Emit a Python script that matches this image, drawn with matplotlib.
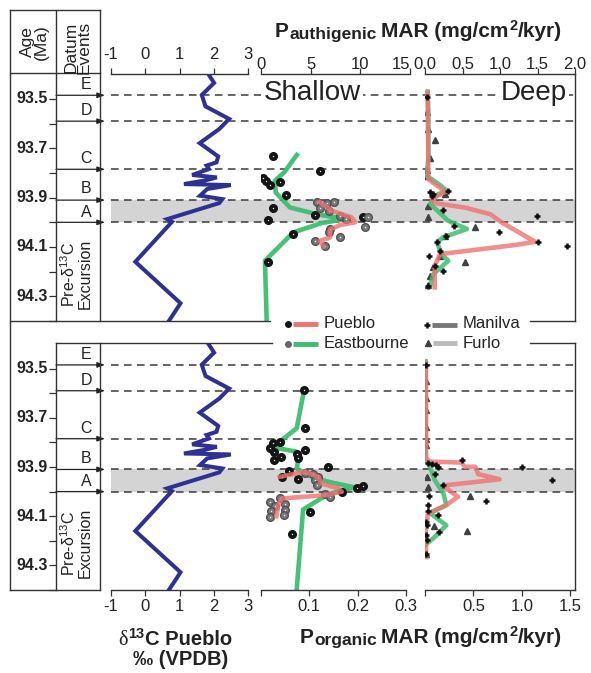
import matplotlib
matplotlib.use('Agg')
import matplotlib.pyplot as plt
import numpy as np

plt.rcParams['font.family'] = ['Liberation Sans', 'DejaVu Sans']
plt.rcParams['mathtext.fontset'] = 'custom'
plt.rcParams['mathtext.rm'] = 'Liberation Sans'
plt.rcParams['mathtext.bf'] = 'Liberation Sans:bold'
plt.rcParams['mathtext.it'] = 'Liberation Sans:italic'
plt.rcParams['mathtext.sf'] = 'Liberation Sans'

# ---------------- DATA ----------------
age_ticks = [93.5, 93.7, 93.9, 94.1, 94.3]
age_minor = [93.5, 93.6, 93.7, 93.8, 93.9, 94.0, 94.1, 94.2, 94.3, 94.4]
datum_ages = [93.485, 93.59, 93.785, 93.91, 94.0]
datum_labels = ['E', 'D', 'C', 'B', 'A']
datum_label_ages = [93.443, 93.547, 93.743, 93.864, 93.96]
shade_band = (93.91, 94.0)

# d13C Pueblo
d13c_age = [93.392, 93.435, 93.484, 93.53, 93.581, 93.622, 93.679, 93.733, 93.757,
            93.77, 93.784, 93.808, 93.818, 93.83, 93.845, 93.849, 93.865, 93.892,
            93.906, 93.922, 93.987, 93.998, 94.16, 94.328, 94.40]
d13c_val = [1.81, 2.01, 1.65, 1.76, 2.45, 2.16, 1.59, 2.13, 2.08,
            1.79, 1.86, 1.37, 2.09, 1.75, 1.13, 2.5, 1.81, 1.60,
            2.25, 2.16, 0.64, 0.78, -0.29, 1.03, 0.69]

# P authigenic - shallow
sh_auth_green_age = [93.727, 93.797, 93.831, 93.879, 93.94, 93.967, 93.987, 94.003, 94.041, 94.156, 94.40]
sh_auth_green_val = [3.6, 2.35, 1.41, 1.48, 2.92, 5.6, 8.46, 6.1, 3.25, 0.4, 0.57]
sh_auth_red_age = [93.919, 93.953, 93.98, 94.0, 94.011, 94.03, 94.061, 94.075, 94.098]
sh_auth_red_val = [5.94, 7.12, 9.13, 9.47, 7.96, 6.95, 6.95, 5.94, 6.28]
sh_auth_black_age = [93.733, 93.79, 93.82, 93.831, 93.838, 93.85, 93.89, 93.943, 93.97,
                     93.987, 93.98, 93.99, 94.048, 94.16]
sh_auth_black_val = [1.18, 5.94, 0.2, 0.5, 1.9, 0.9, 2.5, 1.18, 5.44, 8.6, 10.3, 0.74, 3.25, 0.74]
sh_auth_gray_age = [93.917, 93.922, 93.917, 93.94, 93.953, 93.973, 93.987, 93.98, 94.02,
                    94.027, 94.04, 94.075, 94.098, 94.061]
sh_auth_gray_val = [5.6, 6.6, 7.3, 5.94, 6.8, 7.95, 8.6, 10.8, 10.5, 6.95, 6.8, 5.44, 6.45, 8.0]

# P authigenic - deep
dp_auth_green_age = [93.47, 93.554, 93.743, 93.811, 93.849, 93.872, 93.892, 93.926, 93.994,
                     94.027, 94.061, 94.081, 94.129, 94.156, 94.21, 94.257]
dp_auth_green_val = [0.035, 0.045, 0.045, 0.02, 0.2, 0.29, 0.13, 0.07, 0.31,
                     0.56, 0.24, 0.16, 0.22, 0.31, 0.11, 0.07]
dp_auth_red_age = [93.473, 93.825, 93.876, 93.906, 93.922, 93.94, 93.967, 94.0, 94.079,
                   94.092, 94.129, 94.176, 94.264]
dp_auth_red_val = [0.035, 0.045, 0.27, 0.09, 0.13, 0.53, 0.87, 1.02, 1.47, 1.2, 0.2, 0.13, 0.13]
dp_auth_cross_age = [93.493, 93.879, 93.885, 93.892, 93.872, 93.949, 93.973, 94.016, 94.038,
                     94.079, 94.098, 94.054, 94.081, 94.115, 94.136, 94.176, 94.196, 94.257]
dp_auth_cross_val = [0.02, 0.07, 0.11, 0.09, 0.31, 0.24, 1.49, 0.38, 0.98,
                     1.51, 1.89, 0.28, 0.16, 0.2, 0.05, 0.13, 0.24, 0.04]
dp_auth_tri_age = [93.551, 93.622, 93.666, 93.74, 93.787, 93.811, 93.885, 93.933, 93.98,
                   94.02, 94.054, 94.136, 94.16, 94.183, 94.217, 94.254]
dp_auth_tri_val = [0.02, 0.035, 0.13, 0.07, 0.02, 0.02, 0.27, 0.045, 0.045,
                   0.67, 0.27, 0.2, 0.53, 0.11, 0.07, 0.035]

# P organic - shallow
sh_org_green_age = [93.589, 93.742, 93.797, 93.824, 93.838, 93.871, 93.905, 93.933, 93.96,
                    93.983, 93.994, 94.014, 94.073, 94.395]
sh_org_green_val = [0.089, 0.074, 0.039, 0.036, 0.074, 0.077, 0.074, 0.094, 0.139,
                    0.194, 0.167, 0.136, 0.087, 0.074]
sh_org_red_age = [93.94, 93.919, 93.94, 93.967, 93.987, 94.0, 94.014, 94.028, 94.055, 94.1]
sh_org_red_val = [0.039, 0.091, 0.118, 0.125, 0.16, 0.167, 0.136, 0.043, 0.036, 0.032]
sh_org_black_age = [93.589, 93.742, 93.797, 93.803, 93.824, 93.838, 93.858, 93.871, 93.831,
                    93.847, 93.865, 93.901, 93.916, 93.942, 93.95, 93.976, 93.987, 94.0,
                    94.082, 94.171]
sh_org_black_val = [0.089, 0.092, 0.039, 0.025, 0.019, 0.027, 0.041, 0.027, 0.092,
                    0.074, 0.077, 0.139, 0.058, 0.043, 0.077, 0.211, 0.198, 0.168,
                    0.101, 0.065]
sh_org_gray_age = [93.923, 93.93, 93.94, 93.953, 93.973, 94.01, 94.021, 94.028, 94.042,
                   94.051, 94.059, 94.076, 94.078, 94.096, 94.103]
sh_org_gray_val = [0.091, 0.108, 0.118, 0.112, 0.115, 0.132, 0.143, 0.039, 0.019,
                   0.05, 0.029, 0.05, 0.021, 0.048, 0.019]

# P organic - deep
dp_org_green_age = [93.47, 93.871, 93.899, 93.953, 94.007, 94.055, 94.087, 94.137, 94.185, 94.218]
dp_org_green_val = [0.005, 0.005, 0.05, 0.1, 0.19, 0.22, 0.05, 0.22, 0.1, 0.0]
dp_org_red_age = [93.477, 93.865, 93.878, 93.882, 93.899, 93.899, 93.929, 93.95, 93.973,
                  93.978, 94.021, 94.055, 94.089, 94.157, 94.266]
dp_org_red_val = [0.01, 0.012, 0.05, 0.38, 0.41, 0.52, 0.55, 0.77, 0.24,
                  0.19, 0.34, 0.22, 0.03, 0.01, 0.01]
dp_org_cross_age = [93.484, 93.871, 93.882, 93.888, 93.892, 93.901, 93.929, 93.901, 93.953,
                    93.973, 94.018, 94.037, 94.055, 94.078, 94.096, 94.123, 94.137, 94.164,
                    94.178, 94.198, 94.252]
dp_org_cross_val = [0.01, 0.38, 0.03, 0.07, 0.11, 0.13, 0.1, 1.0, 1.31,
                    0.19, 0.04, 0.63, 0.03, 0.03, 0.13, 0.01, 0.02, 0.14,
                    0.01, 0.02, 0.01]
dp_org_tri_age = [93.552, 93.62, 93.667, 93.738, 93.787, 93.81, 93.94, 93.983, 94.018,
                  94.141, 94.16, 94.255]
dp_org_tri_val = [0.01, 0.01, 0.01, 0.01, 0.01, 0.01, 0.02, 0.03, 0.46, 0.09, 0.43, 0.01]

# ---------------- STYLE ----------------
BLUE = '#2E3192'
GREEN = '#3DBE6E'
RED = '#F07272'
FRAME = '#333333'
TXT = '#222222'
TICKFS = 12

W, H = 591, 673
fig = plt.figure(figsize=(W / 100, H / 100), dpi=100)

TOP = (74.3, 321.0)
BOT = (344.0, 590.0)
YLIM = (94.4, 93.4)


def axp(x0, x1, y0, y1, z=1):
    ax = fig.add_axes([x0 / W, 1 - y1 / H, (x1 - x0) / W, (y1 - y0) / H])
    ax.set_zorder(z)
    ax.patch.set_alpha(0)
    return ax


def setup_age(ax):
    ax.set_xlim(0, 1)
    ax.set_ylim(*YLIM)
    for s in ax.spines.values():
        s.set_visible(False)
    ax.set_xticks([])
    ax.yaxis.tick_right()
    ax.set_yticks(age_minor)
    ax.tick_params(axis='y', direction='in', length=5, width=0.9, colors=FRAME,
                   labelright=False, labelleft=False)
    for a in age_ticks:
        ax.text(0.83, a, f'{a:.1f}', ha='right', va='center', fontsize=11.5,
                fontweight='bold', color=TXT)


def setup_bg(ax):
    ax.set_xlim(56, 575)
    ax.set_ylim(*YLIM)
    ax.axis('off')
    ax.axhspan(shade_band[0], shade_band[1], xmin=(111 - 56) / (575 - 56), xmax=1,
               color='#d4d4d4', lw=0, zorder=0)
    for a in datum_ages:
        ax.hlines(a, 111, 575, colors='#3a3a3a', linestyles=(0, (5, 3.5)), lw=1.1, zorder=1)
        ax.annotate('', xy=(105, a), xytext=(56, a),
                    arrowprops=dict(arrowstyle='-|>,head_length=0.45,head_width=0.16',
                                    color=TXT, lw=0.9, shrinkA=0, shrinkB=0))
    for lab, a in zip(datum_labels, datum_label_ages):
        ax.text(86, a, lab, ha='center', va='center', fontsize=11.5, color=TXT)
    ax.text(76, 94.21, 'Pre-δ$^{13}$C\nExcursion', rotation=90, ha='center', va='center',
            fontsize=11.5, linespacing=0.95, color=TXT)


def style_x(ax, where, xlim, ticks, labels, pad):
    ax.set_xlim(*xlim)
    ax.set_ylim(*YLIM)
    for s in ['left', 'right', 'top', 'bottom']:
        ax.spines[s].set_visible(s == where)
    ax.spines[where].set_color(FRAME)
    ax.spines[where].set_linewidth(1.0)
    ax.set_yticks([])
    if where == 'top':
        ax.xaxis.tick_top()
    else:
        ax.xaxis.tick_bottom()
    ax.set_xticks(ticks)
    ax.set_xticklabels(labels)
    ax.tick_params(axis='x', direction='out', length=4, width=0.9, colors=FRAME,
                   labelsize=TICKFS, pad=pad, labelcolor=TXT)


def dots(ax, v, a, face, edge, z):
    ax.plot(v, a, 'o', ms=5.5, mfc=face, mec=edge, mew=1.0, ls='none', zorder=z)
    ax.plot(v, a, 'o', ms=1.0, mfc='white', mec='none', mew=0, ls='none', zorder=z + 0.1)


for (y0, y1) in (TOP, BOT):
    setup_age(axp(10, 56, y0, y1, z=1))
    setup_bg(axp(56, 575, y0, y1, z=1))

# ---- d13C panels ----
for (y0, y1), where, pad in ((TOP, 'top', 5), (BOT, 'bottom', 2.5)):
    ax = axp(111, 248, y0, y1, z=2)
    ax.plot(d13c_val, d13c_age, color=BLUE, lw=2.9, solid_joinstyle='miter', zorder=3)
    style_x(ax, where, (-1, 3), [-1, 0, 1, 2, 3], ['-1', '0', '1', '2', '3'], pad)

# ---- Shallow authigenic ----
ax = axp(261, 410, TOP[0], TOP[1], z=2)
ax.plot(sh_auth_green_val, sh_auth_green_age, color=GREEN, lw=3.3, alpha=0.95, zorder=2)
dots(ax, sh_auth_black_val, sh_auth_black_age, '#141414', '#141414', 3)
dots(ax, sh_auth_gray_val, sh_auth_gray_age, '#7a7a7a', '#505050', 3)
ax.plot(sh_auth_red_val, sh_auth_red_age, color=RED, lw=3.3, alpha=0.8, zorder=4)
style_x(ax, 'top', (0, 15), [0, 5, 10, 15], ['0', '5', '10', '15'], -2.0)
ax.get_xticklabels()[3].set_horizontalalignment('right')

# ---- Deep authigenic ----
ax = axp(425, 575, TOP[0], TOP[1], z=2)
ax.plot(dp_auth_tri_val, dp_auth_tri_age, '^', ms=5, color='#404040', ls='none', zorder=2)
ax.plot(dp_auth_green_val, dp_auth_green_age, color=GREEN, lw=3.3, alpha=0.85, zorder=3)
ax.plot(dp_auth_red_val, dp_auth_red_age, color=RED, lw=3.3, alpha=0.8, zorder=4)
ax.plot(dp_auth_cross_val, dp_auth_cross_age, '+', ms=5, mew=1.8, color='#111111', ls='none', zorder=5)
style_x(ax, 'top', (0, 2), [0, 0.5, 1.0, 1.5, 2.0], ['0.0', '0.5', '1.0', '1.5', '2.0'], -2.0)

# ---- Shallow organic ----
ax = axp(261, 406, BOT[0], BOT[1], z=2)
ax.plot(sh_org_green_val, sh_org_green_age, color=GREEN, lw=3.3, alpha=0.95, zorder=2)
dots(ax, sh_org_black_val, sh_org_black_age, '#141414', '#141414', 3)
dots(ax, sh_org_gray_val, sh_org_gray_age, '#7a7a7a', '#505050', 3)
ax.plot(sh_org_red_val, sh_org_red_age, color=RED, lw=3.3, alpha=0.8, zorder=4)
style_x(ax, 'bottom', (0, 0.3), [0, 0.1, 0.2, 0.3], ['', '0.1', '0.2', '0.3'], 2.5)

# ---- Deep organic ----
ax = axp(425, 575, BOT[0], BOT[1], z=2)
ax.plot(dp_org_tri_val, dp_org_tri_age, '^', ms=5, color='#404040', ls='none', zorder=2)
ax.plot(dp_org_green_val, dp_org_green_age, color=GREEN, lw=3.3, alpha=0.85, zorder=3)
ax.plot(dp_org_red_val, dp_org_red_age, color=RED, lw=3.3, alpha=0.8, zorder=4)
ax.plot(dp_org_cross_val, dp_org_cross_age, '+', ms=5, mew=1.8, color='#111111', ls='none', zorder=5)
style_x(ax, 'bottom', (0, 1.55), [0, 0.5, 1.0, 1.5], ['', '0.5', '1.0', '1.5'], 2.5)

# ---------------- OVERLAY (frame, labels, legend) ----------------
ov = fig.add_axes([0, 0, 1, 1])
ov.set_zorder(5)
ov.patch.set_alpha(0)
ov.set_xlim(0, W)
ov.set_ylim(H, 0)
ov.axis('off')

frame_segments = [
    ((10, 100), (10, 10)), ((10, 100), (73, 73)),
    ((10, 10), (10, 590)),
    ((56, 56), (10, 321)), ((56, 56), (343, 590)),
    ((100, 100), (10, 321)), ((100, 100), (343, 590)),
    ((10, 270), (321, 321)), ((530, 575), (321, 321)),
    ((575, 575), (74, 321)), ((575, 575), (343, 590)),
    ((56, 272), (343, 343)), ((530, 575), (343, 343)),
    ((10, 100), (590, 590)),
]
for xs, ys in frame_segments:
    ov.plot(xs, ys, color=FRAME, lw=1.0, solid_capstyle='projecting')

ov.text(34, 42, 'Age\n(Ma)', rotation=90, ha='center', va='center', fontsize=12.5,
        linespacing=0.9, color=TXT)
ov.text(78, 47, 'Datum\nEvents', rotation=90, ha='center', va='center', fontsize=12.5,
        linespacing=0.85, color=TXT)

renderer = fig.canvas.get_renderer()


def rich(x, y, parts, align='left'):
    """parts: (text, fontsize, dy, weight, family, gap_after)"""
    items = []
    for s, fs, dy, wt, fam, gap in parts:
        t = ov.text(0, y + dy, s, fontsize=fs, fontweight=wt, family=fam,
                    ha='left', va='baseline', color=TXT)
        w = t.get_window_extent(renderer).width
        items.append((t, w, gap))
    total = sum(w + g for _, w, g in items)
    cur = x - total if align == 'right' else x
    for t, w, g in items:
        t.set_x(cur)
        cur += w + g


SANS = ['Liberation Sans', 'DejaVu Sans']
SERIF = ['Liberation Serif', 'DejaVu Serif']
rich(562, 37, [('P', 15, 0, 'bold', SANS, 1),
               ('authigenic', 12.5, 2.5, 'bold', SANS, 4),
               ('MAR (mg/cm', 15, 0, 'bold', SANS, 0.5),
               ('2', 10.5, -7, 'bold', SANS, 0.5),
               ('/kyr)', 15, 0, 'bold', SANS, 0)], align='right')
rich(562, 643, [('P', 15, 0, 'bold', SANS, 1),
                ('organic', 12.5, 2.5, 'bold', SANS, 4),
                ('MAR (mg/cm', 15, 0, 'bold', SANS, 0.5),
                ('2', 10.5, -7, 'bold', SANS, 0.5),
                ('/kyr)', 15, 0, 'bold', SANS, 0)], align='right')
rich(118, 645, [('δ', 14.5, 0, 'normal', SERIF, 0.5),
                ('13', 10.5, -7, 'bold', SANS, 0.5),
                ('C Pueblo', 14.5, 0, 'bold', SANS, 0)])
ov.text(181, 665, '‰ (VPDB)', ha='center', va='baseline', fontsize=14.5,
        fontweight='bold', color=TXT)

bb = dict(facecolor='white', edgecolor='none', pad=1.5)
ov.text(312, 93, 'Shallow', ha='center', va='center', fontsize=20, color=TXT, bbox=bb)
ov.text(534, 93, 'Deep', ha='center', va='center', fontsize=20, color=TXT, bbox=bb)

# legend
LFS = 12
ov.plot([288], [324], 'o', ms=4, color='#141414')
ov.plot([293, 318], [324, 324], color=RED, lw=3.5, solid_capstyle='butt')
ov.text(324, 324, 'Pueblo', ha='left', va='center', fontsize=LFS, color=TXT)
ov.plot([288], [343.5], 'o', ms=4, color='#666666')
ov.plot([293, 318], [343.5, 343.5], color=GREEN, lw=3.5, solid_capstyle='butt')
ov.text(324, 343.5, 'Eastbourne', ha='left', va='center', fontsize=LFS, color=TXT)
ov.plot([427], [325], '+', ms=5, mew=1.8, color='#111111')
ov.plot([432, 457], [325, 325], color='#777777', lw=3.5, solid_capstyle='butt')
ov.text(463, 324, 'Manilva', ha='left', va='center', fontsize=LFS, color=TXT)
ov.plot([428], [342.5], '^', ms=4.5, color='#404040')
ov.plot([433, 457], [342.5, 342.5], color='#bbbbbb', lw=3.5, solid_capstyle='butt')
ov.text(463, 343, 'Furlo', ha='left', va='center', fontsize=LFS, color=TXT)

fig.savefig('out.png', dpi=100)
